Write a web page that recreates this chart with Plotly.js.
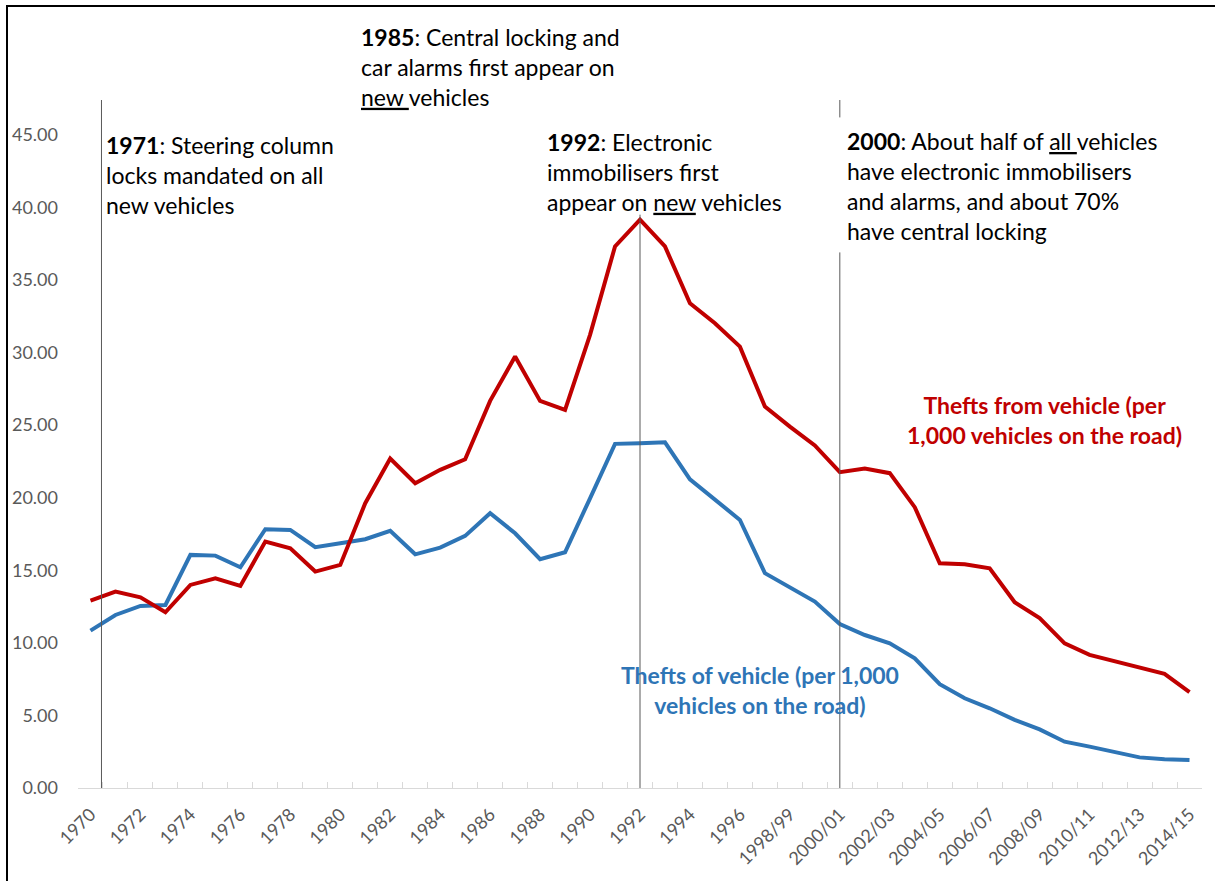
<!DOCTYPE html>
<html>
<head>
<meta charset="utf-8">
<script src="https://cdn.plot.ly/plotly-3.0.1.min.js"></script>
<style>
  html, body { margin: 0; padding: 0; background: #ffffff; }
  #chart { width: 1215px; height: 881px; }
</style>
</head>
<body>
<div id="chart"></div>
<script>
// ---------------- data ----------------
const periods = [
  "1970","1971","1972","1973","1974","1975","1976","1977","1978","1979",
  "1980","1981","1982","1983","1984","1985","1986","1987","1988","1989",
  "1990","1991","1992","1993","1994","1995","1996","1997/98","1998/99","1999/00",
  "2000/01","2001/02","2002/03","2003/04","2004/05","2005/06","2006/07","2007/08","2008/09","2009/10",
  "2010/11","2011/12","2012/13","2013/14","2014/15"
];

const theftsFromVehicle = [
  12.91, 13.53, 13.14, 12.11, 13.99, 14.45, 13.92, 16.98, 16.52, 14.91,
  15.37, 19.62, 22.70, 21.00, 21.92, 22.65, 26.67, 29.73, 26.67, 26.05,
  31.22, 37.31, 39.15, 37.31, 33.40, 32.02, 30.41, 26.28, 24.90, 23.60,
  21.76, 22.01, 21.69, 19.35, 15.48, 15.41, 15.14, 12.80, 11.70, 9.97,
  9.17, 8.71, 8.25, 7.86, 6.60
];

const theftsOfVehicle = [
  10.84, 11.92, 12.54, 12.61, 16.06, 16.01, 15.21, 17.83, 17.78, 16.59,
  16.86, 17.14, 17.72, 16.10, 16.56, 17.37, 18.93, 17.55, 15.76, 16.24,
  19.96, 23.71, 23.75, 23.82, 21.27, 19.85, 18.47, 14.80, 13.80, 12.84,
  11.30, 10.54, 9.97, 8.94, 7.15, 6.18, 5.49, 4.69, 4.04, 3.19,
  2.85, 2.46, 2.11, 1.98, 1.93
];

const yTickValues = [0, 5, 10, 15, 20, 25, 30, 35, 40, 45];
const xTickText = periods.map((p, i) => (i % 2 === 0 ? p : ""));

// ---------------- layout helpers ----------------
const W = 1215, H = 881;
const M = { l: 78, r: 13, t: 100, b: 93 };
const plotW = W - M.l - M.r, plotH = H - M.t - M.b;
const px2x = px => (px - M.l) / plotW;
const py2y = py => (H - M.b - py) / plotH;

const FONT = "Lato, 'Open Sans', sans-serif";
const RED = "#C00000", BLUE = "#2E75B6", GUIDE = "#595959";

const traces = [
  {
    x: periods, y: theftsOfVehicle, type: "scatter", mode: "lines",
    name: "Thefts of vehicle", line: { color: BLUE, width: 4 }, hoverinfo: "x+y"
  },
  {
    x: periods, y: theftsFromVehicle, type: "scatter", mode: "lines",
    name: "Thefts from vehicle", line: { color: RED, width: 4 }, hoverinfo: "x+y"
  }
];

const annFont = { family: FONT, size: 23, color: "#000000" };
const annotations = [
  {
    xref: "paper", yref: "paper", x: px2x(104), y: py2y(175),
    xanchor: "left", yanchor: "middle", align: "left", showarrow: false,
    text: "<b>1971</b>: Steering column<br>locks mandated on all<br>new vehicles",
    font: annFont
  },
  {
    xref: "paper", yref: "paper", x: px2x(359), y: py2y(67),
    xanchor: "left", yanchor: "middle", align: "left", showarrow: false,
    text: "<b>1985</b>: Central locking and<br>car alarms first appear on<br><u>new </u>vehicles",
    font: annFont
  },
  {
    xref: "paper", yref: "paper", x: px2x(545), y: py2y(172),
    xanchor: "left", yanchor: "middle", align: "left", showarrow: false,
    text: "<b>1992</b>: Electronic<br>immobilisers first<br>appear on <u>new</u> vehicles",
    font: annFont
  },
  {
    xref: "paper", yref: "paper", x: px2x(845), y: py2y(186),
    xanchor: "left", yanchor: "middle", align: "left", showarrow: false,
    text: "<b>2000</b>: About half of <u>all </u>vehicles<br>have electronic immobilisers<br>and alarms, and about 70%<br>have central locking",
    font: annFont
  },
  {
    xref: "paper", yref: "paper", x: px2x(1044), y: py2y(420),
    xanchor: "center", yanchor: "middle", align: "center", showarrow: false,
    text: "<b>Thefts from vehicle (per<br>1,000 vehicles on the road)</b>",
    font: { family: FONT, size: 23, color: RED }
  },
  {
    xref: "paper", yref: "paper", x: px2x(760), y: py2y(690),
    xanchor: "center", yanchor: "middle", align: "center", showarrow: false,
    text: "<b>Thefts of vehicle (per 1,000<br>vehicles on the road)</b>",
    font: { family: FONT, size: 23, color: BLUE }
  }
];

const guide = { color: GUIDE, width: 1 };
const shapes = [
  // 1971 marker line
  { type: "line", xref: "x", yref: "y", x0: 0.44, x1: 0.44, y0: 0, y1: 47.4, line: guide },
  // 1992 marker line
  { type: "line", xref: "x", yref: "y", x0: 22, x1: 22, y0: 0, y1: 39.5, line: guide },
  // 2000/01 marker line (interrupted by its text box)
  { type: "line", xref: "x", yref: "y", x0: 30, x1: 30, y0: 0, y1: 36.9, line: guide },
  { type: "line", xref: "x", yref: "y", x0: 30, x1: 30, y0: 46.2, y1: 47.4, line: guide },
  // outer frame (left & top edges visible)
  { type: "rect", xref: "paper", yref: "paper",
    x0: px2x(7), x1: px2x(1218), y0: py2y(890), y1: py2y(6),
    line: { color: "#000000", width: 2 }, fillcolor: "rgba(0,0,0,0)", layer: "above" }
];

const layout = {
  width: W, height: H,
  margin: M,
  paper_bgcolor: "#ffffff", plot_bgcolor: "#ffffff",
  showlegend: false,
  font: { family: FONT, color: "#595959" },
  xaxis: {
    type: "category",
    range: [-0.5, periods.length - 0.5],
    tickmode: "array", tickvals: periods, ticktext: xTickText,
    tickson: "boundaries",
    ticks: "inside", ticklen: 6, tickcolor: "#d9d9d9", tickwidth: 1,
    tickangle: -45,
    tickfont: { family: FONT, size: 18, color: "#595959" },
    ticklabelstandoff: 8,
    showline: true, linecolor: "#d9d9d9", linewidth: 1,
    showgrid: false, zeroline: false, fixedrange: true
  },
  yaxis: {
    range: [0, 47.4],
    tickmode: "array", tickvals: yTickValues, tickformat: ".2f",
    ticks: "", showline: false, showgrid: false, zeroline: false,
    tickfont: { family: FONT, size: 18, color: "#595959" },
    ticklabelstandoff: 19, fixedrange: true
  },
  annotations: annotations,
  shapes: shapes
};

Plotly.newPlot("chart", traces, layout, { displayModeBar: false, staticPlot: true });
</script>
</body>
</html>
